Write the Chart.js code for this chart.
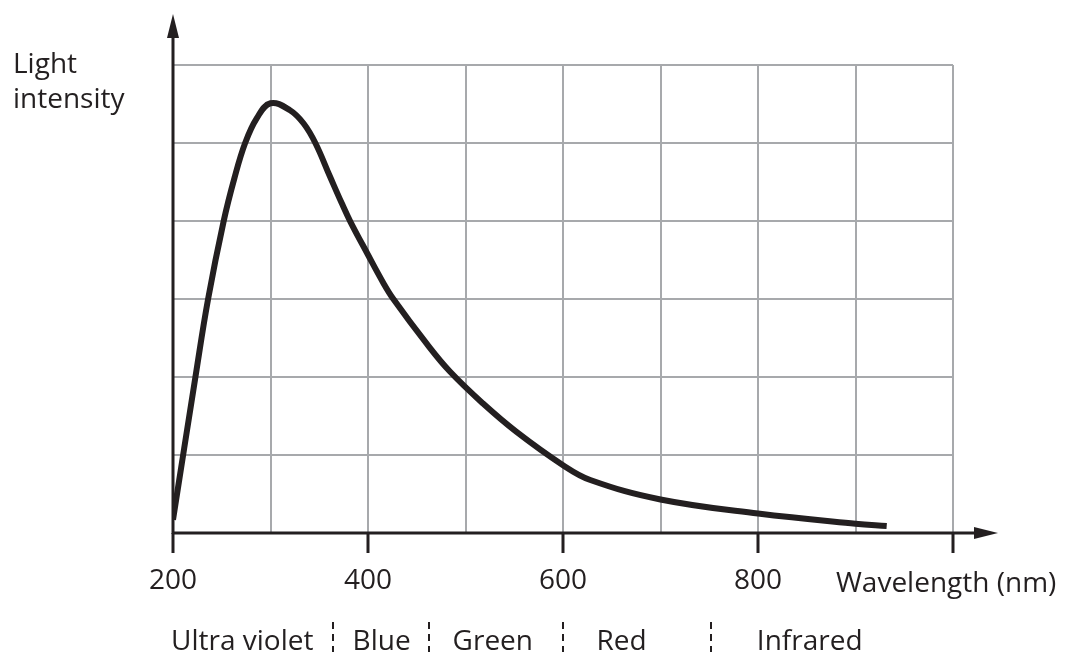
<!DOCTYPE html>
<html>
<head>
<meta charset="utf-8">
<script src="https://cdn.jsdelivr.net/npm/chart.js@4.4.1/dist/chart.umd.min.js"></script>
<style>
  html, body { margin: 0; padding: 0; background: #fff; }
  #wrap { width: 1067px; height: 657px; }
</style>
</head>
<body>
<div id="wrap"><canvas id="chart"></canvas></div>
<script>
// Datos (longitud de onda en nm, intensidad en unidades de cuadrícula)
const wavelengths = [200, 223, 236, 252, 263, 274, 286, 300, 320, 334, 346, 361, 373, 382, 399, 416, 426, 460, 484, 518, 552, 600, 628, 700, 800, 900, 932];
const intensities = [0.17, 2.0, 3.0, 4.0, 4.55, 5.0, 5.32, 5.51, 5.42, 5.25, 5.0, 4.57, 4.23, 3.99, 3.59, 3.2, 3.0, 2.43, 2.07, 1.66, 1.30, 0.87, 0.68, 0.43, 0.25, 0.12, 0.09];

// Etiquetas del eje x y bandas del espectro
const tickLabels = [200, 400, 600, 800];
const bandNames = ["Ultra violet", "Blue", "Green", "Red", "Infrared"];
const bandCenters = [271, 414, 528, 660, 853];
const bandEdges = [364, 463, 600, 752];

const INK = "#231f20";
const GRID = "#a7a9ac";
const FONT = "'Open Sans', 'DejaVu Sans', sans-serif";

// Ejes con flechas y textos fuera del área de datos
const decorations = {
  id: "decorations",
  afterDraw(chart) {
    const { ctx, chartArea, scales } = chart;
    const x0 = chartArea.left;
    const y0 = chartArea.bottom;
    ctx.save();
    ctx.strokeStyle = INK;
    ctx.fillStyle = INK;
    ctx.lineWidth = 3;

    // eje y con flecha
    ctx.beginPath();
    ctx.moveTo(x0, y0 + 1);
    ctx.lineTo(x0, 35);
    ctx.stroke();
    ctx.beginPath();
    ctx.moveTo(x0, 14);
    ctx.lineTo(x0 - 6, 38);
    ctx.lineTo(x0 + 6, 38);
    ctx.closePath();
    ctx.fill();

    // eje x con flecha
    ctx.beginPath();
    ctx.moveTo(x0 - 1, y0);
    ctx.lineTo(978, y0);
    ctx.stroke();
    ctx.beginPath();
    ctx.moveTo(998, y0);
    ctx.lineTo(974, y0 - 6);
    ctx.lineTo(974, y0 + 6);
    ctx.closePath();
    ctx.fill();

    // textos
    ctx.font = "28px " + FONT;
    ctx.textBaseline = "alphabetic";
    ctx.textAlign = "left";
    ctx.fillText("Light", 13, 73);
    ctx.fillText("intensity", 13, 108);
    ctx.fillText("Wavelength (nm)", 836, 592);

    ctx.textAlign = "center";
    bandNames.forEach((name, i) => {
      ctx.fillText(name, scales.x.getPixelForValue(bandCenters[i]), 650);
    });

    // separadores punteados entre bandas
    ctx.lineWidth = 2;
    ctx.setLineDash([7, 5]);
    bandEdges.forEach((edge) => {
      const px = Math.round(scales.x.getPixelForValue(edge));
      ctx.beginPath();
      ctx.moveTo(px, 622);
      ctx.lineTo(px, 652);
      ctx.stroke();
    });
    ctx.restore();
  },
};

new Chart(document.getElementById("chart"), {
  type: "line",
  data: {
    datasets: [
      {
        data: wavelengths.map((w, i) => ({ x: w, y: intensities[i] })),
        borderColor: INK,
        borderWidth: 6,
        pointRadius: 0,
        fill: false,
        tension: 0.4,
        borderCapStyle: "butt",
      },
    ],
  },
  options: {
    responsive: true,
    maintainAspectRatio: false,
    animation: false,
    layout: { padding: { left: 173, right: 114, top: 65, bottom: 0 } },
    plugins: { legend: { display: false }, tooltip: { enabled: false } },
    scales: {
      x: {
        type: "linear",
        min: 200,
        max: 1000,
        border: { display: false },
        afterFit: (scale) => {
          scale.height = 124; // deja sitio para las bandas debajo
        },
        grid: {
          color: GRID,
          lineWidth: 2,
          tickLength: 20,
          tickWidth: 3,
          tickColor: (c) => (c.tick && c.tick.value % 200 === 0 ? INK : "rgba(0,0,0,0)"),
        },
        ticks: {
          stepSize: 100,
          autoSkip: false,
          maxRotation: 0,
          padding: 11,
          color: INK,
          font: { family: FONT, size: 28 },
          callback: (v) => (tickLabels.includes(v) ? String(v) : ""),
        },
      },
      y: {
        min: 0,
        max: 6,
        border: { display: false },
        grid: { color: GRID, lineWidth: 2, drawTicks: false },
        ticks: { display: false, stepSize: 1 },
      },
    },
  },
  plugins: [decorations],
});
</script>
</body>
</html>
